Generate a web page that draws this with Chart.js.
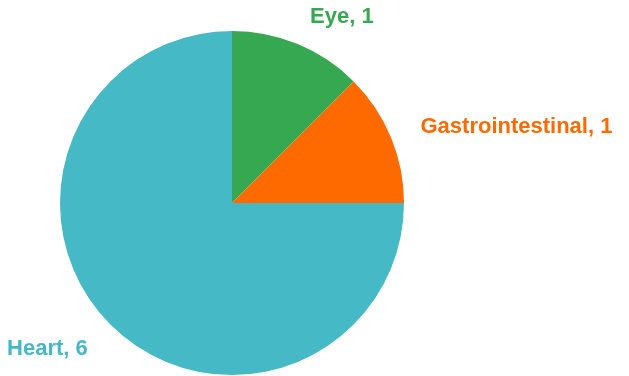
<!DOCTYPE html>
<html>
<head>
<meta charset="utf-8">
<script src="https://cdn.jsdelivr.net/npm/chart.js@4"></script>
<style>
  html, body { margin: 0; padding: 0; background: #fff; }
  #wrap { width: 629px; height: 376px; }
</style>
</head>
<body>
<div id="wrap"><canvas id="c" width="629" height="376"></canvas></div>
<script>
// data
const categories = ['Eye', 'Gastrointestinal', 'Heart'];
const counts = [1, 1, 6];
const sliceColors = ['#36a852', '#ff6a00', '#46b9c7'];

// outside labels "Name, value" in the slice colour
const outsideLabels = {
    id: 'outsideLabels',
    afterDatasetsDraw(chart) {
        const ctx = chart.ctx;
        const meta = chart.getDatasetMeta(0);
        ctx.save();
        ctx.font = "bold 22px 'Liberation Sans', Arial, sans-serif";
        ctx.textBaseline = 'middle';
        meta.data.forEach((arc, i) => {
            const mid = (arc.startAngle + arc.endAngle) / 2;
            const r = arc.outerRadius + 32;
            const x = arc.x + Math.cos(mid) * r;
            const y = arc.y + Math.sin(mid) * r;
            ctx.fillStyle = sliceColors[i];
            ctx.textAlign = x >= arc.x ? 'left' : 'right';
            ctx.fillText(categories[i] + ', ' + counts[i], x, y + 2);
        });
        ctx.restore();
    }
};

new Chart(document.getElementById('c'), {
    type: 'pie',
    data: {
        labels: categories,
        datasets: [{
            data: counts,
            backgroundColor: sliceColors,
            borderWidth: 0
        }]
    },
    options: {
        responsive: false,
        animation: false,
        layout: { padding: { left: 60, right: 225, top: 31, bottom: 1 } },
        plugins: {
            legend: { display: false },
            tooltip: { enabled: false }
        }
    },
    plugins: [outsideLabels]
});
</script>
</body>
</html>
